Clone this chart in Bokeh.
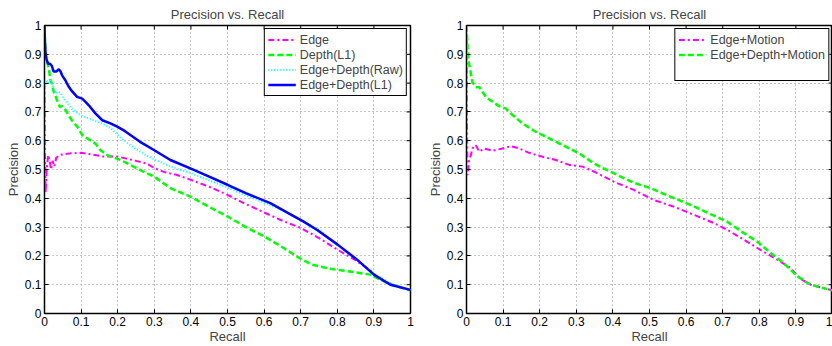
import math
from bokeh.plotting import figure
from bokeh.layouts import row
from bokeh.models import FixedTicker, Legend, LegendItem, Range1d
from bokeh.embed import file_html
from bokeh.resources import INLINE

# ---------------- data ----------------
tick_values = [0, 0.1, 0.2, 0.3, 0.4, 0.5, 0.6, 0.7, 0.8, 0.9, 1.0]
tick_labels = ["0", "0.1", "0.2", "0.3", "0.4", "0.5", "0.6", "0.7", "0.8", "0.9", "1"]

# Left panel
edge_r = [0, 0.001, 0.003, 0.006, 0.01, 0.014, 0.018, 0.022, 0.027, 0.032, 0.04, 0.05, 0.07, 0.1, 0.13,
          0.16, 0.2, 0.25, 0.28, 0.3, 0.33, 0.36, 0.4, 0.45, 0.5, 0.55, 0.6, 0.65, 0.7, 0.75, 0.8, 0.85,
          0.89, 0.91, 0.94, 0.97, 1.0]
edge_p = [0.80, 0.60, 0.42, 0.50, 0.55, 0.53, 0.50, 0.53, 0.51, 0.54, 0.55, 0.552, 0.556, 0.558, 0.552,
          0.545, 0.545, 0.53, 0.52, 0.505, 0.49, 0.482, 0.464, 0.44, 0.412, 0.38, 0.351, 0.322, 0.297,
          0.262, 0.222, 0.185, 0.15, 0.125, 0.105, 0.092, 0.08]

depth_r = [0, 0.002, 0.005, 0.008, 0.012, 0.016, 0.02, 0.025, 0.03, 0.036, 0.042, 0.048, 0.055, 0.065,
           0.075, 0.09, 0.103, 0.117, 0.139, 0.153, 0.171, 0.208, 0.262, 0.3, 0.344, 0.4, 0.45, 0.5, 0.55,
           0.6, 0.65, 0.7, 0.73, 0.78, 0.85, 0.89, 0.91, 0.94, 0.97, 1.0]
depth_p = [1.0, 0.92, 0.88, 0.87, 0.85, 0.81, 0.80, 0.77, 0.755, 0.735, 0.717, 0.72, 0.712, 0.69, 0.67,
           0.648, 0.62, 0.608, 0.59, 0.567, 0.55, 0.533, 0.498, 0.475, 0.435, 0.405, 0.37, 0.337, 0.30,
           0.268, 0.23, 0.19, 0.17, 0.155, 0.143, 0.135, 0.122, 0.104, 0.092, 0.08]

raw_r = [0, 0.002, 0.005, 0.01, 0.015, 0.02, 0.025, 0.03, 0.039, 0.044, 0.053, 0.075, 0.098, 0.112,
         0.135, 0.153, 0.18, 0.208, 0.244, 0.28, 0.3, 0.344, 0.4, 0.45, 0.5, 0.55, 0.6, 0.65, 0.7, 0.75,
         0.8, 0.85, 0.9, 0.95, 1.0]
raw_p = [0.75, 0.80, 0.81, 0.80, 0.815, 0.80, 0.78, 0.765, 0.77, 0.765, 0.746, 0.71, 0.689, 0.68,
         0.671, 0.662, 0.645, 0.61, 0.575, 0.548, 0.535, 0.51, 0.487, 0.462, 0.437, 0.41, 0.385, 0.358,
         0.325, 0.29, 0.238, 0.19, 0.138, 0.102, 0.082]

l1_r = [0, 0.001, 0.003, 0.006, 0.01, 0.015, 0.02, 0.025, 0.032, 0.039, 0.044, 0.048, 0.057, 0.065,
        0.075, 0.089, 0.103, 0.112, 0.121, 0.139, 0.158, 0.18, 0.2, 0.22, 0.26, 0.3, 0.344, 0.4, 0.45,
        0.5, 0.55, 0.617, 0.65, 0.708, 0.745, 0.8, 0.854, 0.9, 0.945, 1.0]
l1_p = [1.0, 0.95, 0.90, 0.88, 0.867, 0.867, 0.86, 0.84, 0.84, 0.848, 0.84, 0.827, 0.81, 0.79, 0.772,
        0.752, 0.746, 0.735, 0.723, 0.695, 0.671, 0.66, 0.648, 0.633, 0.597, 0.567, 0.533, 0.503, 0.475,
        0.447, 0.418, 0.383, 0.36, 0.319, 0.29, 0.24, 0.187, 0.135, 0.1, 0.082]

# Right panel
em_r = [0, 0.001, 0.003, 0.007, 0.012, 0.016, 0.025, 0.035, 0.048, 0.071, 0.098, 0.121, 0.144, 0.171,
        0.208, 0.244, 0.281, 0.317, 0.353, 0.402, 0.457, 0.512, 0.566, 0.621, 0.676, 0.712, 0.758,
        0.803, 0.849, 0.885, 0.913, 0.94, 0.97, 1.0]
em_p = [1.0, 0.70, 0.48, 0.533, 0.55, 0.573, 0.585, 0.562, 0.573, 0.565, 0.573, 0.581, 0.573, 0.558,
        0.544, 0.533, 0.516, 0.51, 0.49, 0.458, 0.429, 0.394, 0.371, 0.343, 0.314, 0.291, 0.256, 0.221,
        0.187, 0.158, 0.12, 0.1, 0.09, 0.08]

edm_r = [0, 0.003, 0.007, 0.012, 0.016, 0.025, 0.035, 0.044, 0.053, 0.071, 0.089, 0.107, 0.126, 0.153,
         0.189, 0.226, 0.262, 0.308, 0.348, 0.402, 0.457, 0.503, 0.557, 0.612, 0.667, 0.712, 0.758,
         0.794, 0.831, 0.867, 0.904, 0.94, 0.97, 1.0]
edm_p = [1.0, 0.92, 0.867, 0.833, 0.804, 0.786, 0.786, 0.769, 0.752, 0.735, 0.72, 0.712, 0.689, 0.66,
         0.631, 0.608, 0.585, 0.556, 0.521, 0.487, 0.454, 0.435, 0.406, 0.377, 0.345, 0.319, 0.279,
         0.25, 0.21, 0.175, 0.129, 0.1, 0.09, 0.08]

FONT = "Liberation Sans"
MAGENTA = "#ff00ff"
GREEN = "#00ff00"
CYAN = "#00ffff"
BLUE = "#0000ff"


def make_fig(width, border_left, border_right):
    p = figure(width=width, height=346, x_range=Range1d(0, 1), y_range=Range1d(0, 1),
               output_backend="svg", toolbar_location=None,
               min_border_left=border_left, min_border_right=border_right,
               min_border_top=25, min_border_bottom=32,
               title="Precision vs. Recall")
    p.title.align = "center"
    p.title.text_font = FONT
    p.title.text_font_size = "13px"
    p.title.text_font_style = "normal"
    p.title.standoff = 8
    p.title.offset = 0
    p.outline_line_color = "black"
    p.outline_line_width = 1.5
    p.outline_line_alpha = 1
    ticker = FixedTicker(ticks=tick_values)
    overrides = {v: l for v, l in zip(tick_values, tick_labels)}
    for ax in (p.xaxis[0], p.yaxis[0]):
        ax.ticker = ticker
        ax.major_label_overrides = overrides
        ax.major_tick_in = 4
        ax.major_tick_out = 0
        ax.minor_tick_in = 0
        ax.minor_tick_out = 0
        ax.major_label_text_font = FONT
        ax.major_label_text_font_size = "12px"
        ax.major_label_text_color = "black"
        ax.major_label_standoff = 3
        ax.axis_label_text_font = FONT
        ax.axis_label_text_font_size = "13px"
        ax.axis_label_text_font_style = "normal"
        ax.axis_label_standoff = 1
        ax.axis_line_color = "black"
        ax.major_tick_line_color = "black"
    p.xaxis[0].axis_label = "Recall"
    p.yaxis[0].axis_label = "Precision"
    p.xaxis[0].axis_label_standoff = 0
    for g in (p.xgrid[0], p.ygrid[0]):
        g.ticker = ticker
        g.grid_line_color = "#8c8c8c"
        g.grid_line_dash = "1 3"
        g.grid_line_width = 1
    # inward tick marks on the top and right edges (half of each marker is clipped by the frame)
    n = len(tick_values)
    p.scatter(tick_values, [tick_values[-1]] * n, marker="dash", angle=math.pi / 2, size=8,
              line_color="black", line_width=1)
    p.scatter([tick_values[-1]] * n, tick_values, marker="dash", size=8,
              line_color="black", line_width=1)
    return p


p1 = make_fig(424, 44, 14)
r_edge = p1.line(edge_r, edge_p, line_color=MAGENTA, line_width=2, line_dash="6 3 2 3")
r_depth = p1.line(depth_r, depth_p, line_color=GREEN, line_width=2.5, line_dash="6 3")
r_raw = p1.line(raw_r, raw_p, line_color=CYAN, line_width=2, line_dash="1 2")
r_l1 = p1.line(l1_r, l1_p, line_color=BLUE, line_width=2.5)

p2 = make_fig(408, 42, 0)
r_em = p2.line(em_r, em_p, line_color=MAGENTA, line_width=2, line_dash="6 3 2 3")
r_edm = p2.line(edm_r, edm_p, line_color=GREEN, line_width=2.5, line_dash="6 3")
r_blank = p2.line(edm_r, edm_p, line_alpha=0)


def style_legend(lg):
    lg.location = "top_right"
    lg.border_line_color = "black"
    lg.border_line_width = 1
    lg.border_line_alpha = 1
    lg.background_fill_color = "white"
    lg.background_fill_alpha = 1
    lg.margin = 3
    lg.padding = 3
    lg.spacing = 0
    lg.glyph_width = 28
    lg.glyph_height = 15
    lg.label_height = 15
    lg.label_standoff = 4
    lg.label_text_font = FONT
    lg.label_text_font_size = "12.5px"
    lg.label_text_baseline = "middle"


lg1 = Legend(items=[LegendItem(label="Edge", renderers=[r_edge]),
                    LegendItem(label="Depth(L1)", renderers=[r_depth]),
                    LegendItem(label="Edge+Depth(Raw)", renderers=[r_raw]),
                    LegendItem(label="Edge+Depth(L1)", renderers=[r_l1])])
style_legend(lg1)
p1.add_layout(lg1)

lg2 = Legend(items=[LegendItem(label="Edge+Motion", renderers=[r_em]),
                    LegendItem(label="Edge+Depth+Motion", renderers=[r_edm]),
                    LegendItem(label=" ", renderers=[r_blank])])
style_legend(lg2)
p2.add_layout(lg2)

layout = row(p1, p2, spacing=0)
open("out.html", "w").write(file_html(layout, INLINE))
